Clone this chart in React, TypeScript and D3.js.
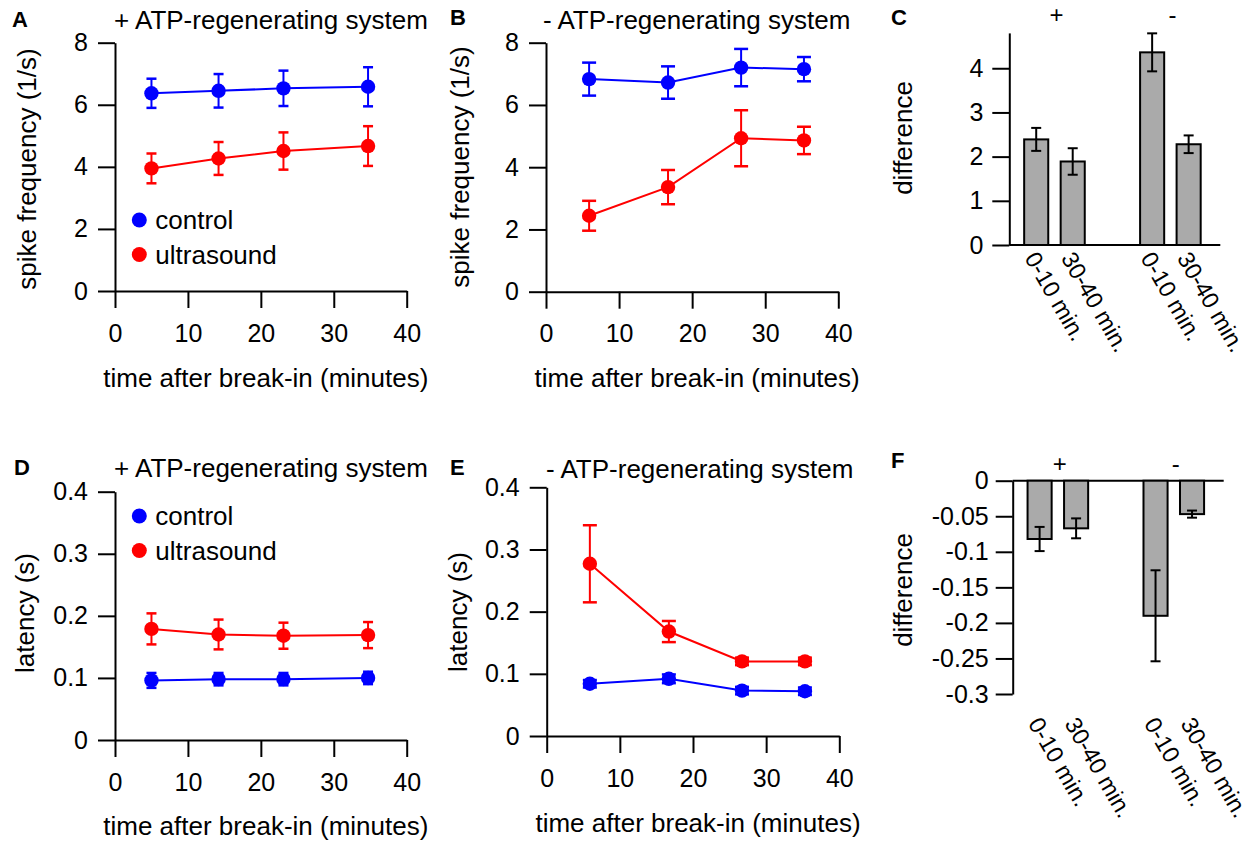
import React, { useRef, useEffect } from "react";
import * as d3 from "d3";

// minutes after break-in
const timeWith = [5, 14.2, 23.1, 34.7];
const timeWithout = [5.9, 16.7, 26.7, 35.3];

// A: spike frequency, + ATP-regenerating system
const freqCtrlPlus = [6.37, 6.45, 6.53, 6.58];
const freqCtrlPlusErr = [0.47, 0.54, 0.57, 0.63];
const freqUsPlus = [3.95, 4.27, 4.51, 4.67];
const freqUsPlusErr = [0.48, 0.53, 0.6, 0.64];

// B: spike frequency, - ATP-regenerating system
const freqCtrlMinus = [6.83, 6.72, 7.2, 7.15];
const freqCtrlMinusErr = [0.53, 0.52, 0.6, 0.39];
const freqUsMinus = [2.44, 3.36, 4.93, 4.86];
const freqUsMinusErr = [0.48, 0.55, 0.9, 0.44];

// D: latency, + ATP-regenerating system
const latCtrlPlus = [0.096, 0.098, 0.098, 0.1];
const latCtrlPlusErr = [0.012, 0.01, 0.01, 0.01];
const latUsPlus = [0.179, 0.17, 0.168, 0.169];
const latUsPlusErr = [0.025, 0.024, 0.021, 0.021];

// E: latency, - ATP-regenerating system
const latCtrlMinus = [0.084, 0.092, 0.073, 0.072];
const latCtrlMinusErr = [0.006, 0.007, 0.006, 0.006];
const latUsMinus = [0.277, 0.168, 0.12, 0.12];
const latUsMinusErr = [0.062, 0.017, 0.006, 0.006];

// C / F: differences (control - ultrasound)
const groups = ["+", "-"];
const periods = ["0-10 min.", "30-40 min."];
const freqDiff = [2.39, 1.89, 4.36, 2.28];
const freqDiffErr = [0.26, 0.3, 0.43, 0.2];
const latDiff = [-0.082, -0.067, -0.19, -0.047];
const latDiffErr = [0.017, 0.014, 0.064, 0.005];

const timeTicks = [0, 10, 20, 30, 40];
const freqTicks = [0, 2, 4, 6, 8];
const latTicks = [0, 0.1, 0.2, 0.3, 0.4];
const diffFreqTicks = [0, 1, 2, 3, 4];
const diffLatTicks = [0, -0.05, -0.1, -0.15, -0.2, -0.25, -0.3];

const FONT = "'Liberation Sans', Arial, Helvetica, sans-serif";
const BLUE = "#0000ff";
const RED = "#ff0000";
const LABEL = 26;
const TICK = 25;

const styleAxis = (g, size) => {
  g.attr("font-family", FONT).attr("font-size", size);
  g.selectAll("path, line").attr("stroke", "#000").attr("stroke-width", 2);
  g.selectAll("text").attr("fill", "#000");
};

const addText = (svg, x, y, txt, opts: any = {}) => {
  return svg.append("text")
    .attr("x", x).attr("y", y)
    .attr("font-family", FONT)
    .attr("font-size", opts.size || LABEL)
    .attr("font-weight", opts.bold ? "bold" : "normal")
    .attr("text-anchor", opts.anchor || "start")
    .text(txt);
};

function linePanel(svg, o) {
  const x = d3.scaleLinear().domain([0, 40]).range([o.x0, o.x1]);
  const y = d3.scaleLinear().domain(o.yDomain).range([o.y0, o.yTop]);

  const xa = svg.append("g").attr("transform", `translate(0,${o.y0})`)
    .call(d3.axisBottom(x).tickValues(timeTicks).tickSize(17).tickSizeOuter(0).tickPadding(16));
  styleAxis(xa, TICK);
  const ya = svg.append("g").attr("transform", `translate(${o.x0},0)`)
    .call(d3.axisLeft(y).tickValues(o.yTicks).tickSize(17).tickSizeOuter(0).tickPadding(10)
      .tickFormat(d => String(d)));
  styleAxis(ya, TICK);

  const line = d3.line().x(d => x(d[0])).y(d => y(d[1]));
  o.series.forEach(s => {
    const pts = s.xs.map((xv, i) => [xv, s.ys[i], s.err[i]]);
    const g = svg.append("g");
    g.append("path").attr("d", line(pts)).attr("fill", "none")
      .attr("stroke", s.color).attr("stroke-width", 2);
    pts.forEach(p => {
      const cx = x(p[0]);
      const yl = y(p[1] - p[2]);
      const yh = y(p[1] + p[2]);
      g.append("line").attr("x1", cx).attr("x2", cx).attr("y1", yl).attr("y2", yh)
        .attr("stroke", s.color).attr("stroke-width", 2);
      [yl, yh].forEach(yy => g.append("line")
        .attr("x1", cx - o.cap).attr("x2", cx + o.cap).attr("y1", yy).attr("y2", yy)
        .attr("stroke", s.color).attr("stroke-width", 2.5));
      g.append("circle").attr("cx", cx).attr("cy", y(p[1])).attr("r", 7.2).attr("fill", s.color);
    });
  });

  addText(svg, o.letterX, o.letterY, o.letter, { bold: true, size: 22 });
  addText(svg, o.titleX, o.titleY, o.title);
  addText(svg, (o.x0 + o.x1) / 2 + 5, o.xTitleY, "time after break-in (minutes)", { anchor: "middle" });
  svg.append("text")
    .attr("transform", `translate(${o.yLabelX},${o.yLabelY}) rotate(-90)`)
    .attr("dy", "0.35em")
    .attr("font-family", FONT).attr("font-size", LABEL).attr("text-anchor", "middle")
    .text(o.yLabel);

  if (o.legend) {
    o.legend.forEach((l, i) => {
      svg.append("circle").attr("cx", o.legendX).attr("cy", o.legendY + i * 34.5)
        .attr("r", 7.5).attr("fill", l.color);
      addText(svg, o.legendX + 16, o.legendY + i * 34.5 + 9, l.name);
    });
  }
}

function barPanel(svg, o) {
  const y = d3.scaleLinear().domain(o.yDomain).range([o.yBottom, o.yTop]);
  const outer = d3.scalePoint().domain(groups).range([o.x0, o.x0 + 211]).padding(0.41).align(0.475);
  const inner = d3.scaleBand().domain(periods).range([-36.5, 36.5]).paddingInner(0.34).paddingOuter(0.17);

  const ya = svg.append("g").attr("transform", `translate(${o.x0},0)`)
    .call(d3.axisLeft(y).tickValues(o.yTicks).tickSize(17).tickSizeOuter(0).tickPadding(o.pad)
      .tickFormat(d => String(+(+d).toFixed(2))));
  styleAxis(ya, TICK);
  svg.append("line").attr("x1", o.x0).attr("x2", o.x0 + 211)
    .attr("y1", y(0)).attr("y2", y(0)).attr("stroke", "#000").attr("stroke-width", 2);

  const rows = [];
  groups.forEach((gname, gi) => periods.forEach((p, pi) => {
    const k = gi * periods.length + pi;
    rows.push({ g: gname, p, v: o.values[k], e: o.err[k] });
  }));

  rows.forEach(r => {
    const bx = outer(r.g) + inner(r.p);
    const cx = bx + inner.bandwidth() / 2;
    svg.append("rect").attr("x", bx).attr("width", inner.bandwidth())
      .attr("y", y(Math.max(r.v, 0))).attr("height", Math.abs(y(r.v) - y(0)))
      .attr("fill", "#aaaaaa").attr("stroke", "#000").attr("stroke-width", 2);
    const yl = y(r.v - r.e);
    const yh = y(r.v + r.e);
    svg.append("line").attr("x1", cx).attr("x2", cx).attr("y1", yl).attr("y2", yh)
      .attr("stroke", "#000").attr("stroke-width", 2);
    [yl, yh].forEach(yy => svg.append("line")
      .attr("x1", cx - 5).attr("x2", cx + 5).attr("y1", yy).attr("y2", yy)
      .attr("stroke", "#000").attr("stroke-width", 2));
    svg.append("text")
      .attr("transform", `translate(${cx - 5},${o.labelY}) rotate(60)`)
      .attr("dy", "0.35em")
      .attr("font-family", FONT).attr("font-size", 23.5).attr("text-anchor", "start")
      .text(r.p);
  });

  groups.forEach(gname => {
    addText(svg, outer(gname) + 2, o.signY, gname, { anchor: "middle", size: 24 });
  });

  addText(svg, o.letterX, o.letterY, o.letter, { bold: true, size: 22 });
  svg.append("text")
    .attr("transform", `translate(${o.yLabelX},${o.yLabelY}) rotate(-90)`)
    .attr("dy", "0.35em")
    .attr("font-family", FONT).attr("font-size", LABEL).attr("text-anchor", "middle")
    .text("difference");
}

const App = () => {
  const svgRef = useRef(null);

  useEffect(() => {
    const svg = d3.select(svgRef.current);
    svg.selectAll("*").remove();

    const legend = [{ name: "control", color: BLUE }, { name: "ultrasound", color: RED }];

    linePanel(svg, {
      x0: 115, x1: 406.7, y0: 291, yTop: 42.7, yDomain: [0, 8], yTicks: freqTicks, cap: 5,
      letter: "A", letterX: 12, letterY: 27, title: "+ ATP-regenerating system", titleX: 114, titleY: 28.5,
      xTitleY: 387, yLabel: "spike frequency (1/s)", yLabelX: 27, yLabelY: 169,
      legend, legendX: 139.3, legendY: 220,
      series: [
        { xs: timeWith, ys: freqCtrlPlus, err: freqCtrlPlusErr, color: BLUE },
        { xs: timeWith, ys: freqUsPlus, err: freqUsPlusErr, color: RED },
      ],
    });
    linePanel(svg, {
      x0: 546, x1: 838.3, y0: 291.7, yTop: 42.7, yDomain: [0, 8], yTicks: freqTicks, cap: 7,
      letter: "B", letterX: 450, letterY: 25, title: "- ATP-regenerating system", titleX: 543, titleY: 28.5,
      xTitleY: 387, yLabel: "spike frequency (1/s)", yLabelX: 460, yLabelY: 167,
      series: [
        { xs: timeWithout, ys: freqCtrlMinus, err: freqCtrlMinusErr, color: BLUE },
        { xs: timeWithout, ys: freqUsMinus, err: freqUsMinusErr, color: RED },
      ],
    });
    linePanel(svg, {
      x0: 115, x1: 406.7, y0: 740, yTop: 491.7, yDomain: [0, 0.4], yTicks: latTicks, cap: 5,
      letter: "D", letterX: 14, letterY: 475, title: "+ ATP-regenerating system", titleX: 114, titleY: 476.7,
      xTitleY: 835, yLabel: "latency (s)", yLabelX: 25, yLabelY: 613,
      legend, legendX: 139.3, legendY: 516,
      series: [
        { xs: timeWith, ys: latCtrlPlus, err: latCtrlPlusErr, color: BLUE },
        { xs: timeWith, ys: latUsPlus, err: latUsPlusErr, color: RED },
      ],
    });
    linePanel(svg, {
      x0: 546.7, x1: 839.3, y0: 736, yTop: 487.3, yDomain: [0, 0.4], yTicks: latTicks, cap: 7,
      letter: "E", letterX: 450, letterY: 475, title: "- ATP-regenerating system", titleX: 546, titleY: 478.3,
      xTitleY: 832, yLabel: "latency (s)", yLabelX: 458, yLabelY: 612,
      series: [
        { xs: timeWithout, ys: latCtrlMinus, err: latCtrlMinusErr, color: BLUE },
        { xs: timeWithout, ys: latUsMinus, err: latUsMinusErr, color: RED },
      ],
    });

    barPanel(svg, {
      x0: 1009.3, yBottom: 245, yTop: 32.9, yDomain: [0, 4.8], yTicks: diffFreqTicks, pad: 9,
      values: freqDiff, err: freqDiffErr, labelY: 254, signY: 22.5,
      letter: "C", letterX: 891, letterY: 25, yLabelX: 903, yLabelY: 138,
    });
    barPanel(svg, {
      x0: 1012.7, yBottom: 694, yTop: 480.7, yDomain: [-0.3, 0], yTicks: diffLatTicks, pad: 7,
      values: latDiff, err: latDiffErr, labelY: 719.5, signY: 472,
      letter: "F", letterX: 891, letterY: 468.3, yLabelX: 903, yLabelY: 590,
    });
  }, []);

  return (
    <svg ref={svgRef} width={1254} height={841}
      style={{ position: "absolute", left: 0, top: 0, background: "#fff" }} />
  );
};

export default App;
